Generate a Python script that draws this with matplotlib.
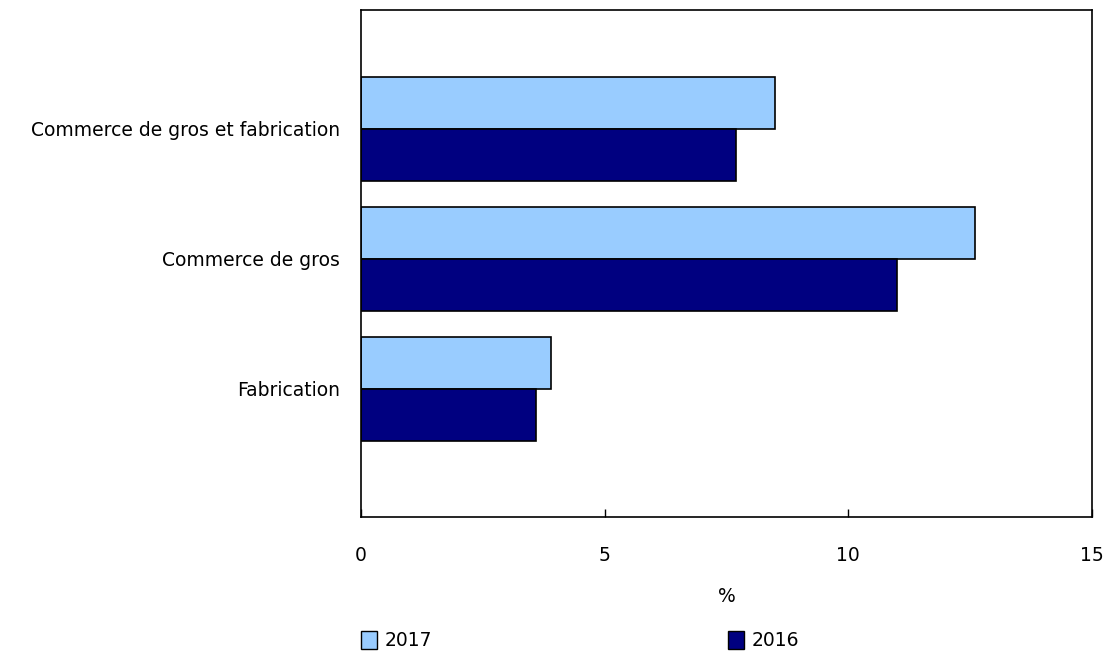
import numpy as np
import matplotlib.pyplot as plt
from matplotlib.patches import Patch

categories = ['Commerce de gros et fabrication', 'Commerce de gros', 'Fabrication']
values_2017 = [8.5, 12.6, 3.9]
values_2016 = [7.7, 11.0, 3.6]
series_labels = ['2017', '2016']
x_ticks = [0, 5, 10, 15]

c2017 = '#99CCFF'
c2016 = '#000080'
fs = 13.5

plt.rcParams['font.family'] = ['DejaVu Sans']

fig = plt.figure(figsize=(11.05, 6.51), dpi=100)
ax = fig.add_axes([0.3267, 0.2058, 0.6615, 0.7788])

y = np.arange(len(categories))
h = 0.4
ax.barh(y - h / 2, values_2017, height=h, color=c2017, edgecolor='black', linewidth=1.2)
ax.barh(y + h / 2, values_2016, height=h, color=c2016, edgecolor='black', linewidth=1.2)

ax.set_ylim(2.985, -0.915)
ax.set_xlim(0, 15)
ax.set_yticks(y)
ax.set_yticklabels(categories, fontsize=fs)
ax.tick_params(axis='y', length=0, pad=15)
ax.set_xticks(x_ticks)
ax.set_xticklabels([str(t) for t in x_ticks], fontsize=fs)
ax.tick_params(axis='x', direction='in', length=6, width=1, pad=21)
ax.set_xlabel('%', fontsize=fs, labelpad=16)

for s in ax.spines.values():
    s.set_linewidth(1.2)

handles = [Patch(facecolor=c2017, edgecolor='black', linewidth=1),
           Patch(facecolor=c2016, edgecolor='black', linewidth=1)]
fig.legend(handles, series_labels, loc='lower left', bbox_to_anchor=(0.3117, -0.025),
           ncol=2, frameon=False, fontsize=fs, handlelength=0.85, handleheight=1.1,
           handletextpad=0.4, columnspacing=15.8)

fig.savefig('out.png', dpi=100)
